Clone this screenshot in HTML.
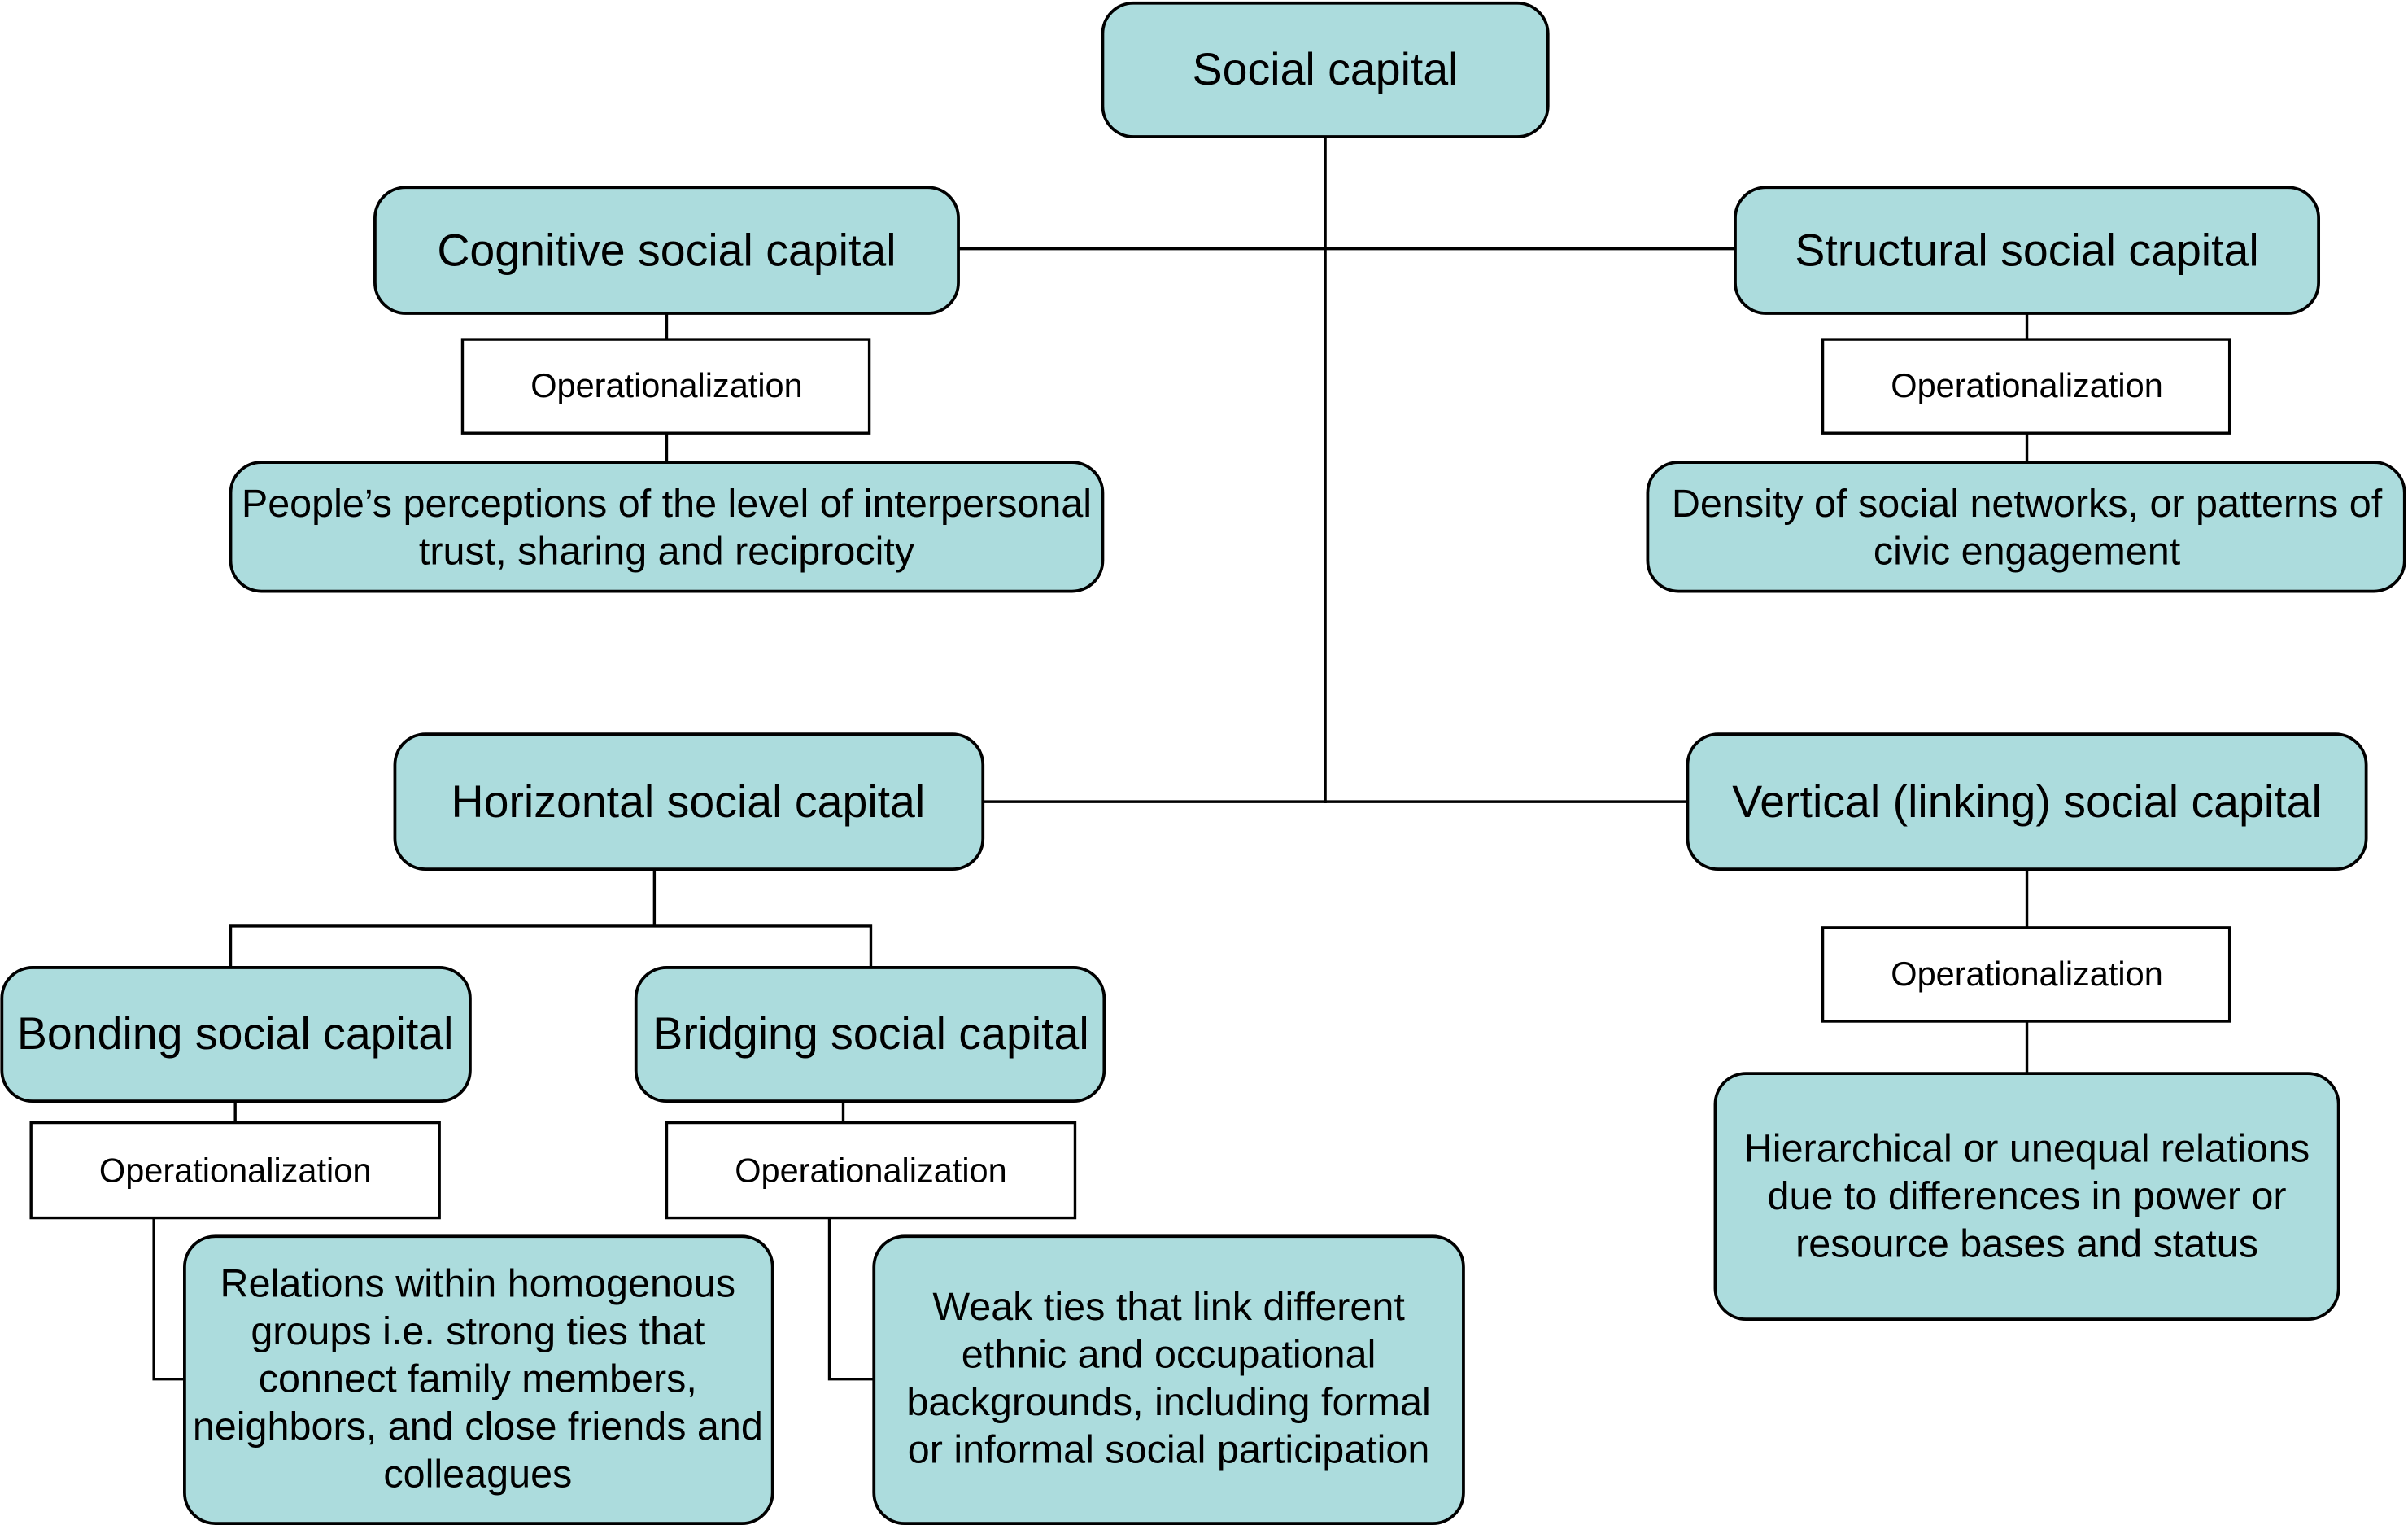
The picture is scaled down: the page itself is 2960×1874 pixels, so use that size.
<!DOCTYPE html>
<html><head><meta charset="utf-8"><style>
html,body{margin:0;padding:0;background:#fff;}
svg{display:block;}
text{font-family:"Liberation Sans",Arial,sans-serif;fill:#000;text-anchor:middle;dominant-baseline:central;}
.b{fill:#acdcdd;stroke:#000;stroke-width:2;}
.o{fill:#fff;stroke:#000;stroke-width:1.8;}
.l{stroke:#000;stroke-width:1.8;fill:none;}
.h{font-size:29.4px;}
.d{font-size:25.7px;}
.op{font-size:22px;}
</style></head><body>
<svg width="2960" height="1874" viewBox="0 0 1568 993" xmlns="http://www.w3.org/2000/svg">
<rect width="1568" height="993" fill="#fff"/>
<path class="l" d="M863 89V523 M624 162H1130 M640 522H1099"/>
<path class="l" d="M434 204V221 M434 282V301 M1320 204V221 M1320 282V301"/>
<path class="l" d="M1320 566V604 M1320 665V699"/>
<path class="l" d="M426 566V603 M150 630V603H567V630"/>
<path class="l" d="M153 717V731 M549 717V731"/>
<path class="l" d="M100 793V898H120 M540 793V898H569"/>
<rect class="b" x="718" y="2" width="290" height="87" rx="20"/>
<text class="h" x="863" y="45">Social capital</text>

<rect class="b" x="244" y="122" width="380" height="82" rx="20"/>
<text class="h" x="434" y="163">Cognitive social capital</text>
<rect class="b" x="1130" y="122" width="380" height="82" rx="20"/>
<text class="h" x="1320" y="163">Structural social capital</text>

<rect class="o" x="301" y="221" width="265" height="61"/>
<text class="op" x="434" y="251">Operationalization</text>
<rect class="o" x="1187" y="221" width="265" height="61"/>
<text class="op" x="1320" y="251">Operationalization</text>

<rect class="b" x="150" y="301" width="568" height="84" rx="20"/>
<text class="d" x="434" y="328">People’s perceptions of the level of interpersonal</text>
<text class="d" x="434" y="359">trust, sharing and reciprocity</text>
<rect class="b" x="1073" y="301" width="493" height="84" rx="20"/>
<text class="d" x="1320" y="328">Density of social networks, or patterns of</text>
<text class="d" x="1320" y="359">civic engagement</text>

<rect class="b" x="257" y="478" width="383" height="88" rx="20"/>
<text class="h" x="448" y="522">Horizontal social capital</text>
<rect class="b" x="1099" y="478" width="442" height="88" rx="20"/>
<text class="h" x="1320" y="522">Vertical (linking) social capital</text>

<rect class="o" x="1187" y="604" width="265" height="61"/>
<text class="op" x="1320" y="634">Operationalization</text>
<rect class="b" x="1117" y="699" width="406" height="160" rx="20"/>
<text class="d" x="1320" y="748">Hierarchical or unequal relations</text>
<text class="d" x="1320" y="779">due to differences in power or</text>
<text class="d" x="1320" y="810">resource bases and status</text>

<rect class="b" x="1" y="630" width="305" height="87" rx="20"/>
<text class="h" x="153" y="673">Bonding social capital</text>
<rect class="b" x="414" y="630" width="305" height="87" rx="20"/>
<text class="h" x="567" y="673">Bridging social capital</text>

<rect class="o" x="20" y="731" width="266" height="62"/>
<text class="op" x="153" y="762">Operationalization</text>
<rect class="o" x="434" y="731" width="266" height="62"/>
<text class="op" x="567" y="762">Operationalization</text>

<rect class="b" x="120" y="805" width="383" height="187" rx="20"/>
<text class="d" x="311" y="836">Relations within homogenous</text>
<text class="d" x="311" y="867">groups i.e. strong ties that</text>
<text class="d" x="311" y="898">connect family members,</text>
<text class="d" x="311" y="929">neighbors, and close friends and</text>
<text class="d" x="311" y="960">colleagues</text>

<rect class="b" x="569" y="805" width="384" height="187" rx="20"/>
<text class="d" x="761" y="851">Weak ties that link different</text>
<text class="d" x="761" y="882">ethnic and occupational</text>
<text class="d" x="761" y="913">backgrounds, including formal</text>
<text class="d" x="761" y="944">or informal social participation</text>
</svg>
</body></html>
